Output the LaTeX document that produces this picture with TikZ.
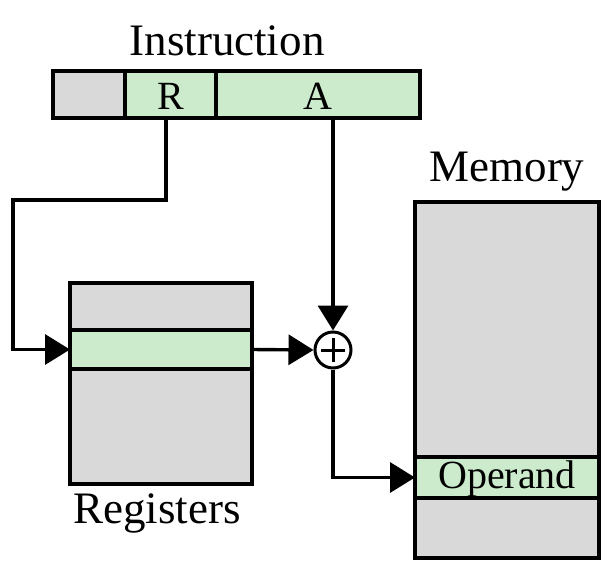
\documentclass[tikz,border=0pt]{standalone}
\usepackage{fontspec}
\setmainfont{Liberation Serif}
\usetikzlibrary{arrows.meta}
\definecolor{cellgray}{RGB}{217,217,217}
\definecolor{cellgreen}{RGB}{204,235,204}
\tikzset{
  box/.style={draw, line width=3.6pt, inner sep=0pt, outer sep=0pt, anchor=north west},
  graybox/.style={box, fill=cellgray},
  greenbox/.style={box, fill=cellgreen},
  lbl/.style={anchor=base, inner sep=0pt, font=\fontsize{45}{48}\selectfont},
  cell/.style={anchor=base, inner sep=0pt, font=\fontsize{40}{44}\selectfont},
  conn/.style={line width=3.4pt, -{Triangle[length=25pt,width=30pt]}},
}
\begin{document}
\begin{tikzpicture}[x=1pt,y=-1pt]
\useasboundingbox (0,0) rectangle (610,568);
% Instruction register
\node[graybox, minimum width=72pt, minimum height=47pt] (op0) at (53,71) {};
\node[greenbox, minimum width=91pt, minimum height=47pt] (R) at (125,71) {};
\node[greenbox, minimum width=204pt, minimum height=47pt] (A) at (216,71) {};
\node[cell] (Rt) at (171,109) {R};
\node[cell] (At) at (318,109) {A};
\node[lbl] (instr) at (227,55) {Instruction};
% Registers
\node[graybox, minimum width=182pt, minimum height=201pt] (regs) at (70,283) {};
\node[greenbox, minimum width=182pt, minimum height=39pt] (regrow) at (70,330) {};
\node[lbl] (regl) at (157,523) {Registers};
% Memory
\node[graybox, minimum width=184pt, minimum height=356pt] (mem) at (415,202) {};
\node[greenbox, minimum width=184pt, minimum height=41pt] (oprow) at (415,457) {};
\node[anchor=base, inner sep=0pt, font=\fontsize{40}{44}\selectfont] (opt) at (507,488) {Operand};
\node[lbl] (meml) at (507,181) {Memory};
% Adder
\node[draw, circle, fill=white, line width=3pt, minimum size=36pt, inner sep=0pt] (adder) at (333,350) {};
\draw[line width=3pt] ([xshift=-12pt]adder.center) -- ([xshift=12pt]adder.center)
  ([yshift=-12pt]adder.center) -- ([yshift=12pt]adder.center);
% Connectors
\coordinate (rs) at (166,118);
\coordinate (rk) at (166,200);
\coordinate (lk) at (13,200);
\coordinate (lb) at (13,349.5);
\draw[conn] (rs) -- (rk) -- (lk) -- (lb) -- (regrow.west);
\coordinate (as) at (333,118);
\draw[conn] (as) -- (adder.north);
\draw[conn] (regrow.east) -- (adder.west);
\draw[conn] (adder.south) |- (oprow.west);
\end{tikzpicture}
\end{document}
